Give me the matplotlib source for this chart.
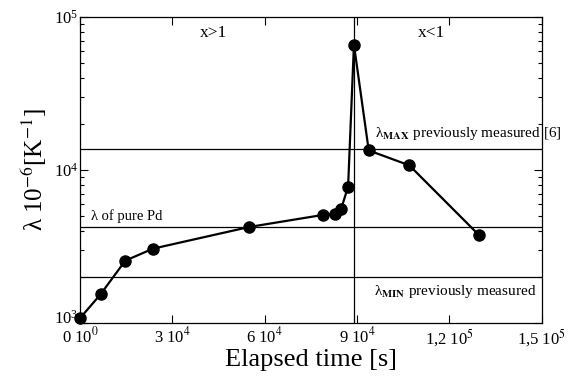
import matplotlib
matplotlib.use("Agg")
import matplotlib.pyplot as plt
import matplotlib.transforms as mtransforms
from matplotlib.ticker import FixedLocator, FixedFormatter, LogLocator, NullFormatter

plt.rcParams['font.family'] = ['Liberation Serif', 'DejaVu Serif']
plt.rcParams['mathtext.fontset'] = 'stix'

# data
time_s = [0, 6700, 14700, 23700, 55000, 78900, 83000, 84800, 87100, 89000, 93800, 107000, 129700]
lam = [1070, 1535, 2545, 3050, 4230, 5070, 5120, 5520, 7760, 65900, 13400, 10700, 3730]

lam_max = 13600
lam_pd = 4210
lam_min = 2000
x_boundary = 89000

xticks = [0, 30000, 60000, 90000, 120000, 150000]
xticklabels = ['0 10$^{0}$', '3 10$^{4}$', '6 10$^{4}$', '9 10$^{4}$', '1,2 10$^{5}$', '1,5 10$^{5}$']

fig = plt.figure(figsize=(5.79, 3.78), dpi=100)
ax = fig.add_axes([80/579, 1 - 322.7/378, 461.7/579, 305.7/378])

ax.set_yscale('log')
ax.set_xlim(0, 150000)
ax.set_ylim(1e3, 1e5)

for v in (lam_max, lam_pd, lam_min):
    ax.axhline(v, color='black', lw=0.9, zorder=1)
ax.axvline(x_boundary, color='black', lw=0.9, zorder=1)

ax.plot(time_s, lam, '-o', color='black', lw=1.6, markersize=8, zorder=3, clip_on=False)

ax.xaxis.set_major_locator(FixedLocator(xticks))
ax.xaxis.set_major_formatter(FixedFormatter(xticklabels))
ax.yaxis.set_major_locator(LogLocator(base=10))
ax.yaxis.set_minor_locator(LogLocator(base=10, subs=range(2, 10)))
ax.yaxis.set_minor_formatter(NullFormatter())

ax.tick_params(axis='both', which='major', direction='in', length=6, width=0.8,
               top=True, right=True, labelsize=12)
ax.tick_params(axis='both', which='minor', direction='in', length=3, width=0.8,
               top=False, right=True)
ax.tick_params(axis='x', pad=3)
ax.tick_params(axis='y', pad=1)

ax.set_xlabel('Elapsed time [s]', fontsize=19, labelpad=0)
ax.set_ylabel('λ 10$^{-6}$[K$^{-1}$]', fontsize=18, labelpad=4)

ax.text(0.288, 0.975, 'x>1', transform=ax.transAxes, fontsize=12.5, ha='center', va='top')
ax.text(0.762, 0.975, 'x<1', transform=ax.transAxes, fontsize=12.5, ha='center', va='top')

ax.text(3500, lam_pd * 1.07, 'λ of pure Pd', fontsize=10.5, ha='left', va='bottom')
ax.text(96000, lam_max * 1.12, 'λ$_{\\mathbf{MAX}}$ previously measured [6]', fontsize=11,
        ha='left', va='bottom')
ax.text(95500, lam_min * 0.91, 'λ$_{\\mathbf{MIN}}$ previously measured', fontsize=11,
        ha='left', va='top')

for s in ax.spines.values():
    s.set_linewidth(0.9)

# nudge the lowest y label up a little so it does not collide with the first x label
fig.canvas.draw()
for lbl in ax.get_yticklabels():
    x, y = lbl.get_position()
    if abs(y - 1e3) < 1:
        lbl.set_transform(lbl.get_transform() + mtransforms.ScaledTranslation(0, 4/72, fig.dpi_scale_trans))

fig.savefig('out.png', dpi=100)
